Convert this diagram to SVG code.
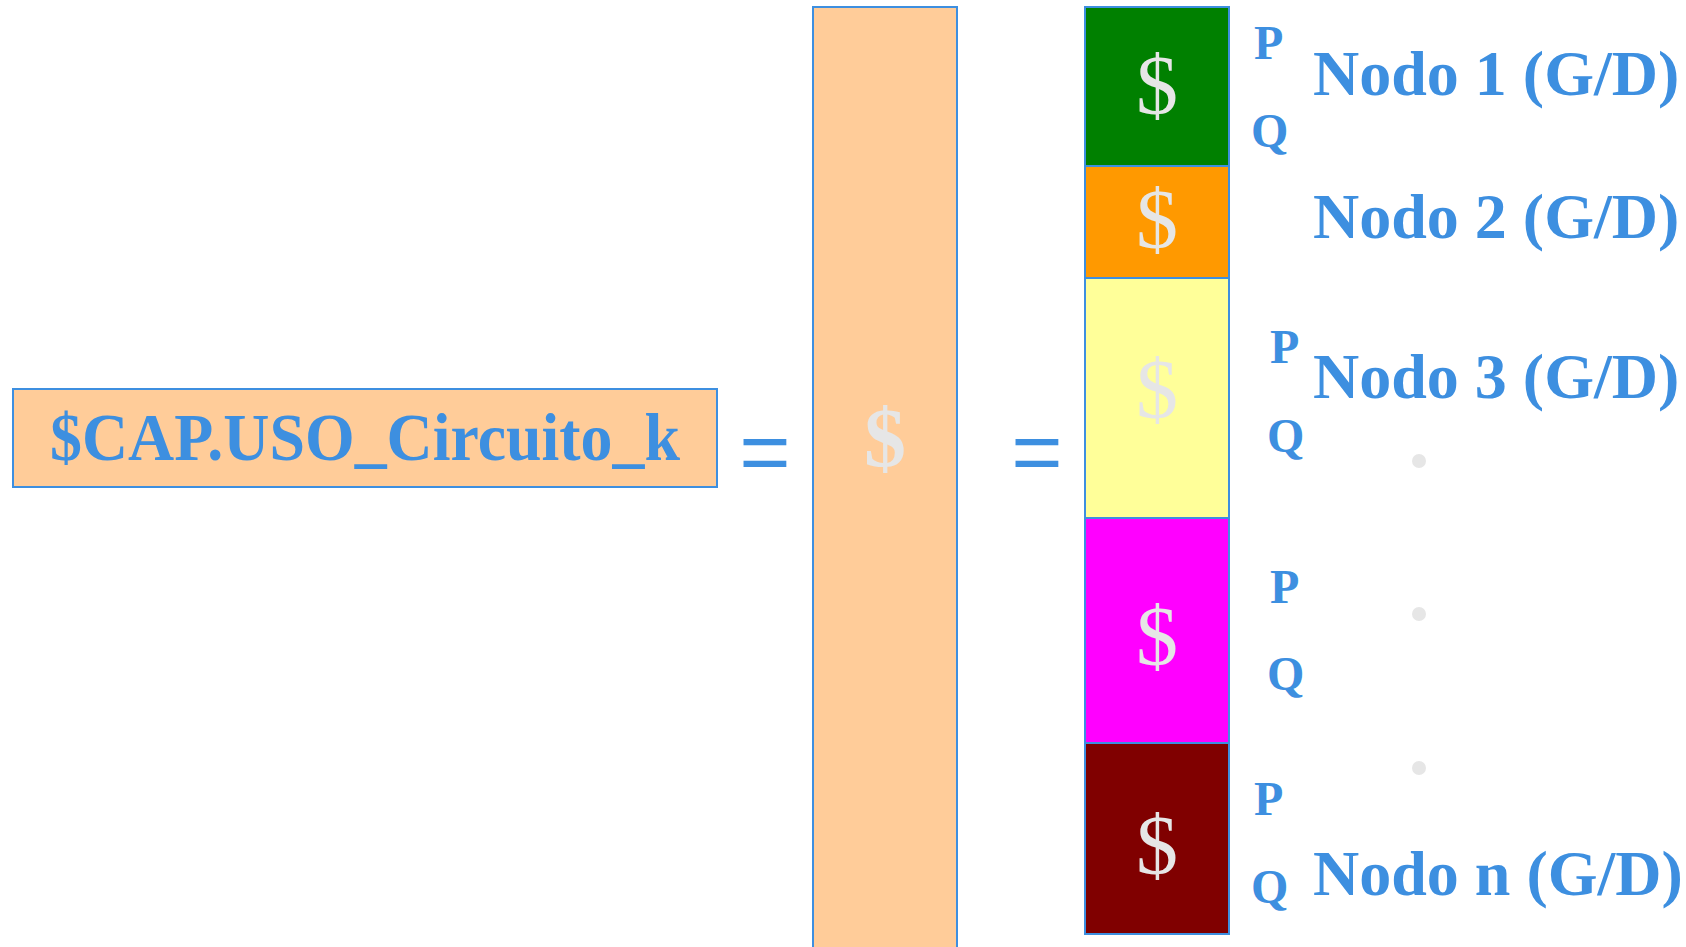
<svg xmlns="http://www.w3.org/2000/svg" width="1686" height="947" viewBox="0 0 1686 947">
<style>
.box{stroke:#3D8FE0;stroke-width:2}
.lbl{font-family:"Liberation Serif","Times New Roman",serif;font-weight:bold;fill:#3D8FE0}
.pq{font-family:"Liberation Serif","Times New Roman",serif;font-weight:bold;fill:#3D8FE0;font-size:48px}
.node{font-family:"Liberation Serif","Times New Roman",serif;font-weight:bold;fill:#3D8FE0;font-size:64px}
.dol{font-family:"Liberation Serif","Times New Roman",serif;fill:#E6E6E6;font-size:84px;text-anchor:middle}
.eq{font-family:"Liberation Sans",Arial,sans-serif;fill:#3D8FE0;font-size:88px;text-anchor:middle}
.dot{fill:#E6E6E6}
</style>
<rect width="1686" height="947" fill="#FFFFFF"/>
<g id="cap-box">
<rect class="box" x="13" y="389" width="704" height="98" fill="#FFCC99"/>
<text class="lbl" x="50" y="460" font-size="67" textLength="630" lengthAdjust="spacingAndGlyphs">$CAP.USO_Circuito_k</text>
</g>
<g id="eq1"><text class="eq" x="765" y="482">=</text></g>
<g id="column">
<rect class="box" x="813" y="7" width="144" height="950" fill="#FFCC99"/>
<text class="dol" x="885" y="467" font-weight="bold" font-size="78">$</text>
</g>
<g id="eq2"><text class="eq" x="1037" y="482">=</text></g>
<g id="seg1">
<rect class="box" x="1085" y="7" width="144" height="159" fill="#008000"/>
<text class="dol" x="1157" y="114">$</text>
</g>
<g id="seg2">
<rect class="box" x="1085" y="166" width="144" height="112" fill="#FF9900"/>
<text class="dol" x="1157" y="248">$</text>
</g>
<g id="seg3">
<rect class="box" x="1085" y="278" width="144" height="240" fill="#FFFF99"/>
<text class="dol" x="1157" y="418">$</text>
</g>
<g id="seg4">
<rect class="box" x="1085" y="518" width="144" height="225" fill="#FF00FF"/>
<text class="dol" x="1157" y="665">$</text>
</g>
<g id="segn">
<rect class="box" x="1085" y="743" width="144" height="191" fill="#800000"/>
<text class="dol" x="1157" y="874">$</text>
</g>
<g id="node1">
<text class="pq" x="1254" y="59">P</text>
<text class="pq" x="1251" y="147">Q</text>
<text class="node" x="1313" y="95">Nodo 1 (G/D)</text>
</g>
<g id="node2">
<text class="node" x="1313" y="238">Nodo 2 (G/D)</text>
</g>
<g id="node3">
<text class="pq" x="1270" y="363">P</text>
<text class="pq" x="1267" y="452">Q</text>
<text class="node" x="1313" y="398">Nodo 3 (G/D)</text>
</g>
<g id="node4">
<text class="pq" x="1270" y="603">P</text>
<text class="pq" x="1267" y="690">Q</text>
</g>
<g id="noden">
<text class="pq" x="1254" y="815">P</text>
<text class="pq" x="1251" y="903">Q</text>
<text class="node" x="1313" y="895">Nodo n (G/D)</text>
</g>
<g id="dots">
<ellipse class="dot" cx="1419" cy="461" rx="7" ry="7"/>
<ellipse class="dot" cx="1419" cy="614" rx="7" ry="7"/>
<ellipse class="dot" cx="1419" cy="768" rx="7" ry="7"/>
</g>
<g id="connectors"/>
</svg>
